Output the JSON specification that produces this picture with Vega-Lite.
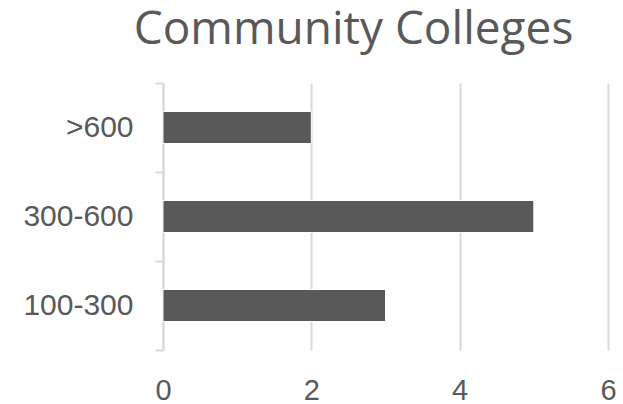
{
  "$schema": "https://vega.github.io/schema/vega-lite/v6.json",
  "autosize": "none",
  "width": 445,
  "height": 267,
  "padding": {"left": 163, "top": 83, "right": 15, "bottom": 54},
  "background": "white",
  "title": {
    "text": "Community Colleges",
    "font": "Open Sans",
    "fontSize": 46,
    "fontWeight": "normal",
    "color": "#595959",
    "anchor": "middle",
    "dx": -32,
    "offset": 14
  },
  "data": {
    "values": [
      {"range": ">600", "count": 2},
      {"range": "300-600", "count": 5},
      {"range": "100-300", "count": 3}
    ]
  },
  "mark": {"type": "bar", "color": "#595959", "stroke": "white", "strokeWidth": 1, "height": {"band": 0.36}},
  "encoding": {
    "y": {
      "field": "range",
      "type": "nominal",
      "sort": [">600", "300-600", "100-300"],
      "scale": {"paddingInner": 0, "paddingOuter": 0},
      "axis": {
        "title": null,
        "domainColor": "#d9d9d9",
        "domainWidth": 2,
        "tickColor": "#d9d9d9",
        "tickWidth": 2,
        "tickSize": 8,
        "tickBand": "extent",
        "labelFont": "Liberation Sans",
        "labelFontSize": 30,
        "labelColor": "#595959",
        "labelPadding": 22,
        "grid": false
      }
    },
    "x": {
      "field": "count",
      "type": "quantitative",
      "scale": {"domain": [0, 6]},
      "axis": {
        "title": null,
        "values": [0, 2, 4, 6],
        "domain": false,
        "ticks": false,
        "grid": true,
        "gridColor": "#d9d9d9",
        "gridWidth": 2,
        "labelFont": "Liberation Sans",
        "labelFontSize": 29,
        "labelColor": "#595959",
        "labelPadding": 26,
        "labelFlush": false
      }
    }
  },
  "config": {"view": {"stroke": null}}
}
